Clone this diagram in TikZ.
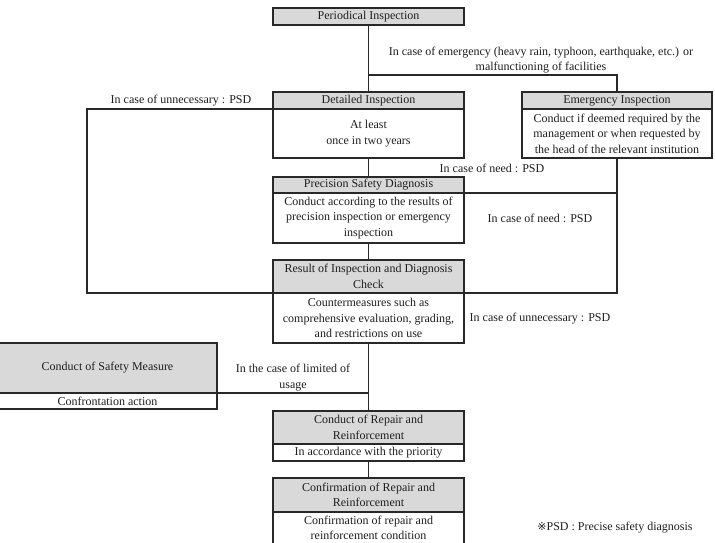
\documentclass[tikz,border=0pt]{standalone}
\usepackage{fontspec}
\setmainfont{Liberation Serif}
\newfontfamily\symfnt{DejaVu Sans}
\definecolor{hdrgray}{RGB}{217,217,217}
\definecolor{linec}{RGB}{40,40,40}
\definecolor{txtc}{RGB}{30,30,30}
\begin{document}
\begin{tikzpicture}[x=1pt,y=-1pt,
  part/.style 2 args={draw=linec, line width=1.1pt, minimum width=#1pt, minimum height=#2pt,
    anchor=north west, inner sep=0pt, outer sep=0pt, align=center,
    font=\fontsize{12}{15.5}\selectfont, text=txtc},
  hdr/.style={fill=hdrgray},
  lbl/.style={inner sep=0pt, outer sep=0pt, align=center, font=\fontsize{12}{15.5}\selectfont, text=txtc},
  conn/.style={draw=linec, line width=1.1pt}]
\useasboundingbox (0,0) rectangle (715,543);
\clip (0,0) rectangle (715,543);

% boxes
\node[part={191}{17},hdr] (per) at (273,8) {Periodical Inspection};
\node[part={191}{17},hdr] (deth) at (273,92) {Detailed Inspection};
\node[part={191}{49}] (detb) at (273,109) {At least\\once in two years};
\node[part={190}{17},hdr] (emgh) at (522,92) {Emergency Inspection};
\node[part={190}{49}] (emgb) at (522,109) {Conduct if deemed required by the\\management or when requested by\\the head of the relevant institution};
\node[part={191}{16},hdr] (psdh) at (273,177) {Precision Safety Diagnosis};
\node[part={191}{50}] (psdb) at (273,193) {Conduct according to the results of\\precision inspection or emergency\\inspection};
\node[part={191}{33},hdr] (resh) at (273,260) {Result of Inspection and Diagnosis\\Check};
\node[part={191}{50}] (resb) at (273,293) {Countermeasures such as\\comprehensive evaluation, grading,\\and restrictions on use};
\node[part={219}{50},hdr] (safh) at (-2,343) {Conduct of Safety Measure};
\node[part={219}{16}] (safb) at (-2,393) {Confrontation action};
\node[part={191}{33},hdr] (reph) at (273,411) {Conduct of Repair and\\Reinforcement};
\node[part={191}{17}] (repb) at (273,444) {In accordance with the priority};
\node[part={191}{34},hdr] (confh) at (273,478) {Confirmation of Repair and\\Reinforcement};
\node[part={191}{40},font=\fontsize{12}{15}\selectfont] (confb) at (273,512) {};
\node[lbl,font=\fontsize{12}{15}\selectfont] (confbt) at (368.5,527.5) {Confirmation of repair and\\reinforcement condition};

% labels
\node[lbl] (l1) at (541,60) {In case of emergency (heavy rain, typhoon, earthquake, etc.) or\\malfunctioning of facilities};
\node[lbl] (l2) at (492,168) {In case of need : PSD};
\node[lbl] (l3) at (540,218) {In case of need : PSD};
\node[lbl] (l4) at (540,319) {In case of unnecessary : PSD};
\node[lbl] (l5) at (181,101) {In case of unnecessary : PSD};
\node[lbl] (l6) at (293,377.5) {In the case of limited of\\usage};
\node[lbl] (l7) at (615,528) {{\symfnt\fontsize{11}{12}\selectfont ※}PSD : Precise safety diagnosis};

% connectors
\draw[conn] (per.south) -- (deth.north);
\path (per.south) ++(0,50) coordinate (j1);
\draw[conn] (j1) -| (emgh.north);
\draw[conn] (detb.south) -- (psdh.north);
\draw[conn] (emgb.south) |- (resb.north east);
\draw[conn] (psdb.north east) -- (psdb.north east -| emgb.south);
\draw[conn] (psdb.south) -- (resh.north);
\path (detb.north west) ++(-186,0) coordinate (lc);
\draw[conn] (detb.north west) -- (lc) |- (resb.north west);
\draw[conn] (resb.south) -- (reph.north);
\draw[conn] (safb.north east) -- (safb.north east -| resb.south);
\draw[conn] (repb.south) -- (confh.north);
\end{tikzpicture}
\end{document}
